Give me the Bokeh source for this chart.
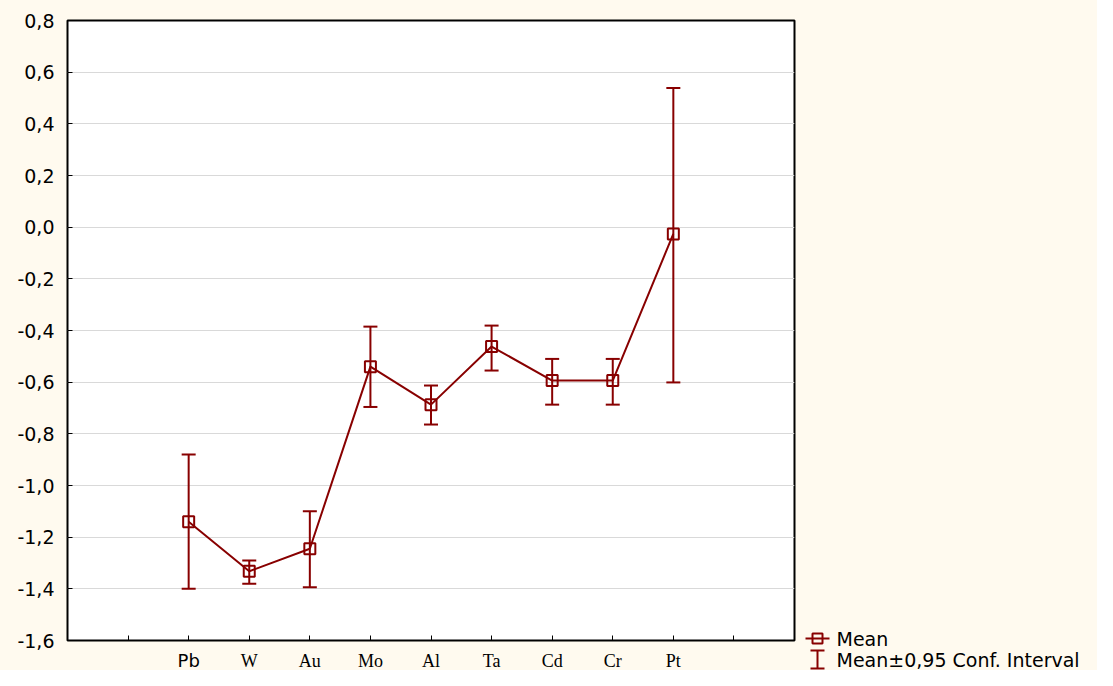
from bokeh.plotting import figure
from bokeh.models import (ColumnDataSource, Whisker, TeeHead, FixedTicker, Range1d,
                          CustomJSTickFormatter)
from bokeh.layouts import row, column
from bokeh.embed import file_html
from bokeh.resources import INLINE
from bokeh.core.properties import value

categories = ["Pb", "W", "Au", "Mo", "Al", "Ta", "Cd", "Cr", "Pt"]
means = [-1.14, -1.332, -1.245, -0.54, -0.687, -0.462, -0.594, -0.594, -0.026]
upper = [-0.88, -1.29, -1.10, -0.385, -0.613, -0.381, -0.510, -0.510, 0.539]
lower = [-1.40, -1.38, -1.394, -0.696, -0.764, -0.555, -0.687, -0.687, -0.601]
y_ticks = [-1.6, -1.4, -1.2, -1.0, -0.8, -0.6, -0.4, -0.2, 0.0, 0.2, 0.4, 0.6, 0.8]
legend_labels = ["Mean", "Mean\u00b10,95 Conf. Interval"]

RED = "#880000"
BG = "#FFFAEF"

xs = list(range(2, 2 + len(categories)))
src = ColumnDataSource(dict(x=xs, mean=means, upper=upper, lower=lower))
x_range = Range1d(0, len(categories) + 3)

# ---------------- main plot ----------------
p = figure(frame_width=727, frame_height=620, min_border_left=67, min_border_right=10,
           min_border_top=20, min_border_bottom=10, title=None,
           x_range=x_range, y_range=Range1d(y_ticks[0], y_ticks[-1]),
           output_backend="svg", toolbar_location=None)
p.background_fill_color = "white"
p.border_fill_color = BG
p.outline_line_color = "black"
p.outline_line_width = 2

p.xgrid.visible = False
p.ygrid.grid_line_color = "#d9d9d9"
p.ygrid.grid_line_width = 1

p.yaxis.ticker = FixedTicker(ticks=y_ticks)
p.yaxis.formatter = CustomJSTickFormatter(code="""
    let s = tick.toFixed(1);
    if (s === "-0.0") s = "0.0";
    return s.replace('.', ',');
""")
p.yaxis.major_label_text_font = "DejaVu Sans"
p.yaxis.major_label_text_font_size = "19px"
p.yaxis.major_label_text_color = "black"
p.yaxis.major_label_standoff = 13

p.xaxis.ticker = FixedTicker(ticks=list(range(1, len(categories) + 3)))
p.xaxis.formatter = CustomJSTickFormatter(code="return '';")
p.xaxis.major_label_text_font_size = "0px"
p.xaxis.major_label_standoff = 0

for ax in (p.xaxis[0], p.yaxis[0]):
    ax.axis_line_color = None
    ax.major_tick_in = 5
    ax.major_tick_out = 0
    ax.major_tick_line_color = "black"
    ax.major_tick_line_width = 1
    ax.minor_tick_line_color = None

wh = Whisker(base="x", upper="upper", lower="lower", source=src, line_color=RED, line_width=2,
             upper_head=TeeHead(size=14, line_color=RED, line_width=2),
             lower_head=TeeHead(size=14, line_color=RED, line_width=2))
p.add_layout(wh)
p.line("x", "mean", source=src, line_color=RED, line_width=2)
p.scatter("x", "mean", source=src, marker="square", size=11, line_color=RED,
          line_width=2, fill_color=None)

# ---------------- category label strip (shares the x scale) ----------------
strip = figure(frame_width=727, frame_height=20, min_border_left=67, min_border_right=10,
               min_border_top=0, min_border_bottom=0, title=None,
               x_range=x_range, y_range=Range1d(20, 0),
               output_backend="svg", toolbar_location=None)
strip.axis.visible = False
strip.grid.visible = False
strip.outline_line_color = None
strip.background_fill_color = BG
strip.border_fill_color = BG
fonts = ["DejaVu Sans" if c == "Pb" else "Liberation Serif" for c in categories]
csrc = ColumnDataSource(dict(x=xs, lab=categories, font=fonts))
strip.text("x", 10, text="lab", source=csrc, text_font="font", text_font_size="18px",
           text_align="center", text_baseline="middle", text_color="black")

# ---------------- legend panel ----------------
lg = figure(frame_width=293, frame_height=670, min_border=0, title=None,
            x_range=Range1d(804, 1097), y_range=Range1d(670, 0),
            output_backend="svg", toolbar_location=None)
lg.axis.visible = False
lg.grid.visible = False
lg.outline_line_color = None
lg.background_fill_color = BG
lg.border_fill_color = BG

lsrc = ColumnDataSource(dict(tx=[836, 836], ty=[638, 659], t=legend_labels))
lg.segment(x0=[805], y0=[638], x1=[829], y1=[638], line_color=RED, line_width=2)
lg.scatter(x=[817], y=[638], marker="square", size=10, line_color=RED, line_width=2, fill_color=None)
lg.segment(x0=[817, 810, 810], y0=[650, 650, 668], x1=[817, 824, 824], y1=[668, 650, 668],
           line_color=RED, line_width=2)
lg.text("tx", "ty", text="t", source=lsrc, text_font=value("DejaVu Sans"),
        text_font_size="19px", text_baseline="middle", text_align="left", text_color="black")

layout = row(column(p, strip, spacing=0), lg, spacing=0)
layout.background = BG

open("out.html", "w").write(file_html(layout, INLINE))
